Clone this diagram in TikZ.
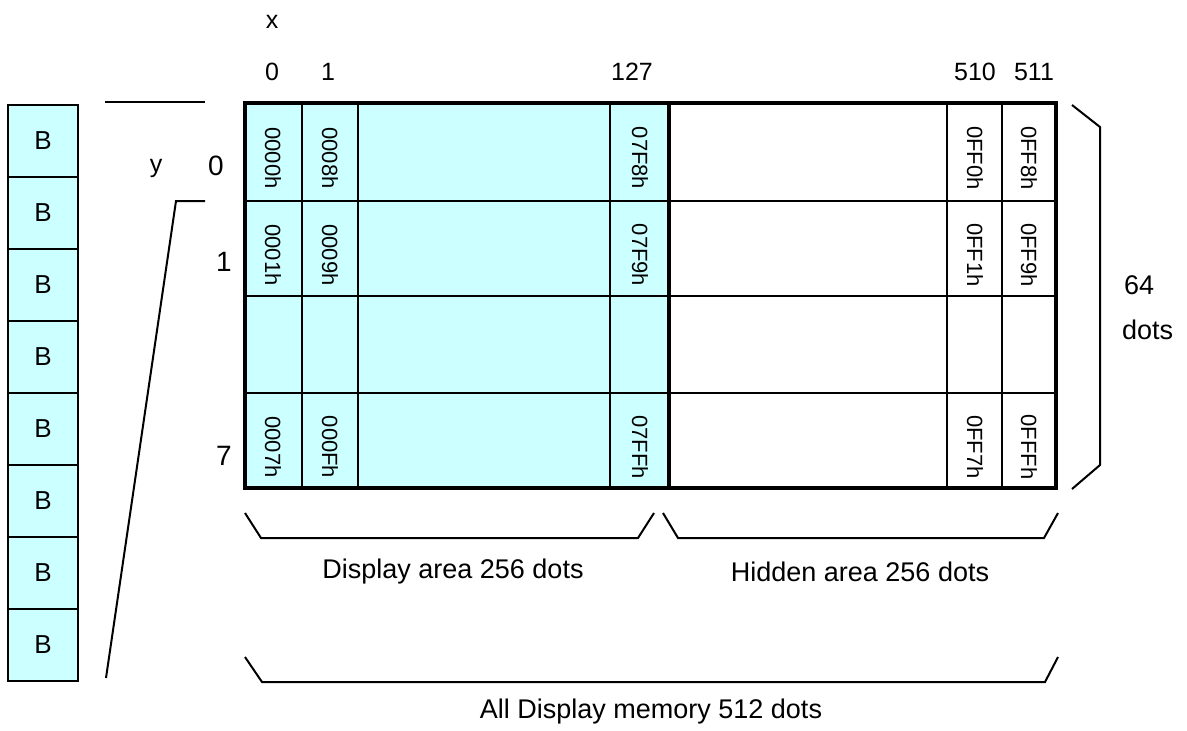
\documentclass[tikz,border=0pt]{standalone}
\usepackage{fontspec}
\setmainfont{Liberation Sans}
\definecolor{dispcyan}{HTML}{CCFFFF}
\tikzset{
  cellnum/.style={font=\fontsize{22}{22}\selectfont, rotate=-90, inner sep=0pt},
  axisnum/.style={font=\fontsize{25}{25}\selectfont, inner sep=0pt},
  rownum/.style={font=\fontsize{28}{28}\selectfont, inner sep=0pt},
  caption/.style={font=\fontsize{27}{27}\selectfont, inner sep=0pt},
  bytebox/.style={draw, line width=2.5pt, fill=dispcyan, minimum width=70pt,
    minimum height=72pt, inner sep=0pt, font=\fontsize{26}{26}\selectfont},
  bracket/.style={line width=2pt}
}
\begin{document}
\begin{tikzpicture}[x=1pt,y=-1pt]
  \useasboundingbox (0,0) rectangle (1187,731);
  % memory grid
  \fill[dispcyan] (245,103) rectangle (669,488);
  \foreach \y in {201,296,393} \draw[black, line width=2pt] (245,\y) -- (1056,\y);
  \foreach \x in {302,358,610,947,1002} \draw[black, line width=2pt] (\x,103) -- (\x,488);
  \draw[black, line width=4pt] (669,103) -- (669,488);
  \draw[black, line width=4pt] (245,103) rectangle (1056,488);
  % addresses
  \foreach \x/\a/\b/\c in {273/0000h/0001h/0007h, 330/0008h/0009h/000Fh,
      640/07F8h/07F9h/07FFh, 975/0FF0h/0FF1h/0FF7h, 1029/0FF8h/0FF9h/0FFFh} {
    \node[cellnum] (a\x) at (\x,158) {\a};
    \node[cellnum] (b\x) at (\x,255) {\b};
    \node[cellnum] (c\x) at (\x,447) {\c};
  }
  % axes
  \node[axisnum] (xname) at (272,22) {x};
  \foreach \x/\t in {272/0, 328/1, 632/127, 975/510, 1034/511}
    \node[axisnum] (col\t) at (\x,72) {\t};
  \node[axisnum] (yname) at (156,168) {y};
  \foreach \x/\y/\t in {216/166/0, 224/262/1, 224/456/7}
    \node[rownum] (row\t) at (\x,\y) {\t};
  % byte column
  \foreach \i in {1,...,8}
    \node[bytebox] (byte\i) at (43,{141+72*(\i-1)}) {B};
  \coordinate (zoomA) at (105,102);
  \coordinate (zoomB) at (205,102);
  \coordinate (zoomC) at (205,201);
  \coordinate (zoomD) at (176,201);
  \coordinate (zoomE) at (106,678);
  \draw[bracket] (zoomA) -- (zoomB);
  \draw[bracket] (zoomC) -- (zoomD) -- (zoomE);
  % spans
  \draw[bracket] (245,513) -- (261,538) -- (638,538) -- (654,513);
  \draw[bracket] (663,513) -- (678,538) -- (1044,538) -- (1058,513);
  \draw[bracket] (245,657) -- (262,682) -- (1045,682) -- (1058,657);
  \draw[bracket] (1072,105) -- (1100,127) -- (1100,465) -- (1072,489);
  \node[caption] (disp) at (453,572) {Display area 256 dots};
  \node[caption] (hidden) at (860,572) {Hidden area 256 dots};
  \node[caption] (allmem) at (651,712) {All Display memory 512 dots};
  \node[caption, anchor=west] (height) at (1124,285) {64};
  \node[caption, anchor=west] (heightunit) at (1122,330) {dots};
\end{tikzpicture}
\end{document}
